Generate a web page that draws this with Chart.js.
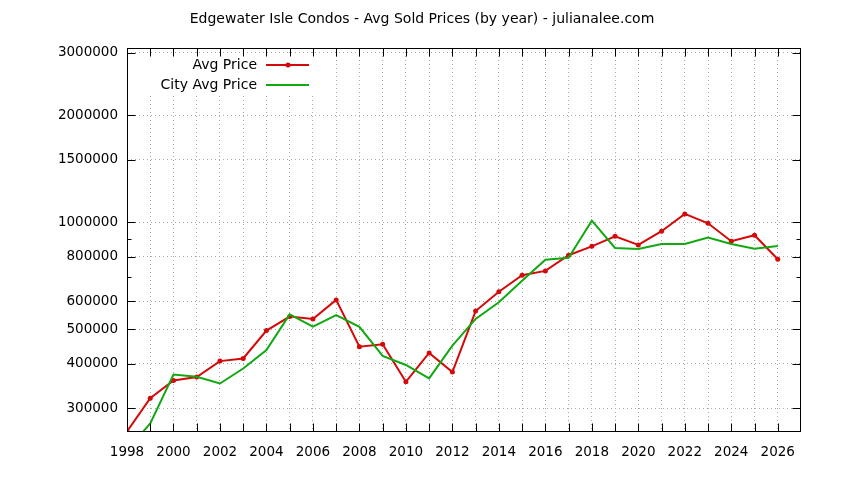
<!DOCTYPE html>
<html>
<head>
<meta charset="utf-8">
<script src="https://cdn.jsdelivr.net/npm/chart.js@4"></script>
<style>
  html, body { margin: 0; padding: 0; background: #fff; }
</style>
</head>
<body>
<canvas id="grafico" width="844" height="480"></canvas>
<script>
// data
const years = [1998, 1999, 2000, 2001, 2002, 2003, 2004, 2005, 2006, 2007,
  2008, 2009, 2010, 2011, 2012, 2013, 2014, 2015, 2016, 2017,
  2018, 2019, 2020, 2021, 2022, 2023, 2024, 2025, 2026]
const avgPrice = [258000, 320000, 359000, 367000, 407000, 414000, 496000, 543000, 535000, 605000,
  447000, 454000, 356000, 429000, 379000, 563000, 638000, 710000, 730000, 808000,
  856000, 914000, 864000, 944000, 1056000, 994000, 885000, 920000, 787000]
const cityAvgPrice = [228000, 272000, 373000, 368000, 352000, 388000, 437000, 551000, 509000, 548000,
  508000, 421000, 397000, 364000, 450000, 535000, 596000, 685000, 785000, 795000,
  1011000, 847000, 842000, 869000, 869000, 906000, 869000, 843000, 858000]
const yTicks = [300000, 400000, 500000, 600000, 700000, 800000, 900000,
  1000000, 1500000, 2000000, 3000000]
const yMinor = [700000, 900000]

const red = '#d40a0a'
const green = '#12a812'

Chart.defaults.font.family = 'DejaVu Sans'
Chart.defaults.font.size = 13.5
Chart.defaults.color = '#000'

// gnuplot-ish frame: borders, inward ticks and the opaque key
const frame = {
  id: 'frame',
  afterDatasetsDraw(chart) {
    const {ctx, chartArea: a, scales: {x, y}} = chart
    const ds = chart.data.datasets

    // key box
    ctx.save()
    ctx.fillStyle = '#fff'
    ctx.fillRect(a.left + 1, a.top + 6, 186, 42)
    ctx.font = '14px DejaVu Sans'
    ctx.textAlign = 'right'
    ctx.textBaseline = 'middle'
    ds.forEach((d, i) => {
      const ly = a.top + 17 + i * 20
      ctx.fillStyle = '#000'
      ctx.fillText(d.label, a.left + 130, ly)
      ctx.strokeStyle = d.borderColor
      ctx.lineWidth = 2
      ctx.beginPath()
      ctx.moveTo(a.left + 139, ly)
      ctx.lineTo(a.left + 182, ly)
      ctx.stroke()
      if (d.pointRadius > 0) {
        ctx.fillStyle = d.borderColor
        ctx.beginPath()
        ctx.arc(a.left + 161, ly, d.pointRadius, 0, Math.PI * 2)
        ctx.fill()
      }
    })

    // border
    ctx.strokeStyle = '#000'
    ctx.lineWidth = 1
    const L = Math.round(a.left) + 0.5, R = Math.round(a.right) - 0.5
    const T = Math.round(a.top) + 0.5, B = Math.round(a.bottom) - 0.5
    ctx.strokeRect(L, T, R - L, B - T)

    // ticks
    ctx.beginPath()
    x.ticks.forEach(t => {
      const px = Math.round(x.getPixelForValue(t.value)) + 0.5
      ctx.moveTo(px, B); ctx.lineTo(px, B - 8)
      ctx.moveTo(px, T); ctx.lineTo(px, T + 8)
    })
    y.ticks.forEach(t => {
      const py = Math.round(y.getPixelForValue(t.value)) + 0.5
      const len = yMinor.includes(t.value) ? 4 : 8
      ctx.moveTo(L, py); ctx.lineTo(L + len, py)
      ctx.moveTo(R, py); ctx.lineTo(R - len, py)
    })
    ctx.stroke()
    ctx.restore()
  }
}

let grafico = new Chart(document.getElementById('grafico').getContext('2d'), {
  type: 'line',
  data: {
    labels: years,
    datasets: [{
      label: 'Avg Price',
      data: years.map((yr, i) => ({x: yr, y: avgPrice[i]})),
      borderColor: red,
      backgroundColor: red,
      borderWidth: 2,
      pointRadius: 2.5,
      pointBorderWidth: 0,
      pointBackgroundColor: red,
      tension: 0,
      clip: 0,
      order: 1
    }, {
      label: 'City Avg Price',
      data: years.map((yr, i) => ({x: yr, y: cityAvgPrice[i]})),
      borderColor: green,
      backgroundColor: green,
      borderWidth: 2,
      pointRadius: 0,
      tension: 0,
      clip: 0,
      order: 0
    }]
  },
  plugins: [frame],
  options: {
    responsive: false,
    animation: false,
    devicePixelRatio: 1,
    layout: {
      padding: 0
    },
    scales: {
      x: {
        type: 'linear',
        min: 1998,
        max: 2027,
        afterBuildTicks: s => { s.ticks = years.map(v => ({value: v})) },
        afterFit: s => { s.height = 48.5 },
        ticks: {
          autoSkip: false,
          maxRotation: 0,
          padding: 13,
          callback: v => (v % 2 === 0 ? String(v) : '')
        },
        grid: {
          drawTicks: false,
          color: '#a8a8a8',
          lineWidth: 1
        },
        border: {display: false, dash: [1, 3]}
      },
      y: {
        type: 'logarithmic',
        min: 258000,
        max: 3093000,
        afterBuildTicks: s => { s.ticks = yTicks.map(v => ({value: v})) },
        afterFit: s => { s.width = 127 },
        ticks: {
          padding: 9,
          callback: v => (yMinor.includes(v) ? '' : String(v))
        },
        grid: {
          drawTicks: false,
          color: c => (c.tick && yMinor.includes(c.tick.value) ? 'rgba(0,0,0,0)' : '#a8a8a8'),
          lineWidth: 1
        },
        border: {display: false, dash: [1, 3]}
      },
      // empty right margin, keeps the title centred on the page
      yRight: {
        position: 'right',
        display: true,
        min: 0,
        max: 1,
        ticks: {display: false},
        grid: {display: false, drawTicks: false},
        border: {display: false},
        afterFit: s => { s.width = 43 }
      }
    },
    plugins: {
      legend: {display: false},
      tooltip: {enabled: false},
      title: {
        display: true,
        text: 'Edgewater Isle Condos - Avg Sold Prices (by year) - julianalee.com',
        color: '#000',
        font: {size: 14, weight: 'normal', lineHeight: 1.2},
        padding: {top: 11, bottom: 20.2}
      }
    }
  }
})
</script>
</body>
</html>
